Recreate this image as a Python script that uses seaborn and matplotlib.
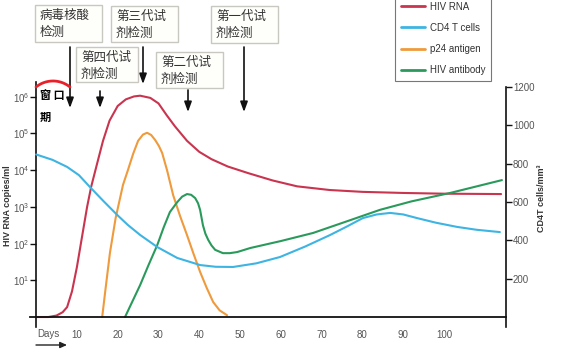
import numpy as np
import pandas as pd
import matplotlib
matplotlib.use("Agg")
import matplotlib.pyplot as plt
import seaborn as sns
from matplotlib.patches import Rectangle, FancyArrowPatch
from matplotlib.lines import Line2D
from matplotlib.ticker import NullLocator

# --- data ---
# HIV RNA (copies/ml, stored as log10)
rna_day = [0, 3, 5, 6.5, 7.6, 8.8, 10, 11.2, 12.5, 13.5, 15, 16.4, 18, 20, 22, 24, 25.5,
           28, 30, 32, 34, 37, 40, 43, 47, 52, 58, 64, 72, 80, 90, 100, 114]
rna_log = [0, 0, 0.04, 0.13, 0.27, 0.7, 1.36, 2.15, 3.0, 3.55, 4.2, 4.8, 5.35, 5.75, 5.93, 6.01, 6.03,
           5.97, 5.82, 5.5, 5.2, 4.8, 4.5, 4.3, 4.1, 3.92, 3.72, 3.56, 3.46, 3.41, 3.38, 3.36, 3.35]

# p24 antigen (log10)
p24_day = [16.2, 17, 18.1, 19.5, 21.3, 22.5, 23.8, 25, 26.2, 27.2, 28.2, 29.2, 30.1, 30.9, 32.1,
           33.6, 35.3, 37, 38.6, 40.2, 41.8, 43.4, 45, 46.8]
p24_log = [0, 0.75, 1.75, 2.7, 3.6, 4.0, 4.45, 4.8, 4.97, 5.02, 4.96, 4.82, 4.66, 4.47, 4.0,
           3.32, 2.75, 2.23, 1.72, 1.23, 0.8, 0.41, 0.18, 0.05]

# HIV antibody (log10)
ab_day = [21.8, 23.5, 25.5, 27.5, 29.7, 31.3, 32.8, 34.6, 35.8, 37, 38, 39, 39.7, 40.2, 40.9,
          41.5, 42.2, 43, 43.9, 45.8, 47.5, 49.3, 52.5, 60, 67.9, 76, 84.3, 92, 101.5, 114.2]
ab_log = [0, 0.4, 0.87, 1.4, 1.96, 2.45, 2.86, 3.13, 3.28, 3.35, 3.33, 3.24, 3.1, 2.92, 2.5,
          2.27, 2.1, 1.95, 1.83, 1.74, 1.74, 1.77, 1.88, 2.07, 2.29, 2.6, 2.92, 3.15, 3.38, 3.73]

# CD4 T cells (cells/mm3, right axis)
cd4_day = [0, 4, 7.6, 10.5, 13.2, 16.5, 19.9, 22.5, 25.5, 29.7, 34.6, 40.2, 44, 48.3, 54, 59.8,
           66, 72.1, 76, 80.1, 83.5, 86.8, 90, 93.4, 98, 103.2, 108, 113.7]
cd4_val = [848, 820, 783, 740, 678, 605, 532, 480, 428, 365, 308, 271, 262, 261, 280, 313,
           368, 428, 470, 516, 535, 543, 535, 516, 492, 470, 455, 443]

series_names = ["HIV RNA", "CD4 T cells", "p24 antigen", "HIV antibody"]
COLORS = ["#c9344f", "#3db4e2", "#ef9a3c", "#2a9a5c"]

x_ticks = [10, 20, 30, 40, 50, 60, 70, 80, 90, 100]
left_ticks = [1, 2, 3, 4, 5, 6]
right_ticks = [200, 400, 600, 800, 1000, 1200]

tests = [("病毒核酸", "检测"), ("第三代试", "剂检测"), ("第四代试", "剂检测"),
         ("第二代试", "剂检测"), ("第一代试", "剂检测")]

# --- style ---
sns.set_style("ticks")
plt.rcParams["font.family"] = ["Liberation Sans", "Noto Sans CJK SC", "DejaVu Sans"]
plt.rcParams["mathtext.default"] = "regular"

W, H = 571, 351
LW = 1.5


def px(x, y):
    return (x / W, 1 - y / H)


fig = plt.figure(figsize=(W / 100, H / 100), dpi=100)
fig.patch.set_facecolor("white")
ax = fig.add_axes([30 / W, (H - 327) / H, 476 / W, 245 / H])
ax.set_yscale("log")

rna = pd.DataFrame({"day": rna_day, "v": 10 ** np.array(rna_log)})
p24 = pd.DataFrame({"day": p24_day, "v": 10 ** np.array(p24_log)})
ab = pd.DataFrame({"day": ab_day, "v": 10 ** np.array(ab_log)})
cd4 = pd.DataFrame({"day": cd4_day, "v": cd4_val})

sns.lineplot(data=rna, x="day", y="v", ax=ax, color=COLORS[0], lw=LW)
sns.lineplot(data=p24, x="day", y="v", ax=ax, color=COLORS[2], lw=LW)
sns.lineplot(data=ab, x="day", y="v", ax=ax, color=COLORS[3], lw=LW)

ax.set_xlim(-1.5, 115.2)
ax.set_ylim(10 ** -0.272, 10 ** 6.403)
ax.set_xlabel("")
ax.set_ylabel("")
for s in ["top", "right"]:
    ax.spines[s].set_visible(False)
ax.spines["left"].set_position(("data", 0))
ax.spines["bottom"].set_position(("data", 1))
ax.spines["left"].set_linewidth(1.2)
ax.spines["bottom"].set_linewidth(1.3)
ax.spines["left"].set_color("#111")
ax.spines["bottom"].set_color("#111")

ax.set_yticks([10 ** k for k in left_ticks])
ax.set_yticklabels(["$10^{%d}$" % k for k in left_ticks])
ax.yaxis.set_minor_locator(NullLocator())
ax.tick_params(axis="y", direction="out", length=4, width=1, color="#111",
               labelcolor="#555", labelsize=7, pad=1)
ax.set_xticks(x_ticks)
ax.tick_params(axis="x", length=0, labelcolor="#555", labelsize=7, pad=9)

ax2 = ax.twinx()
sns.lineplot(data=cd4, x="day", y="v", ax=ax2, color=COLORS[1], lw=LW)
ax2.set_ylim(-52.2, 1226)
ax2.set_ylabel("")
for s in ["top", "left", "bottom"]:
    ax2.spines[s].set_visible(False)
ax2.spines["right"].set_bounds(-52.2, 1200)
ax2.spines["right"].set_linewidth(1.2)
ax2.spines["right"].set_color("#111")
ax2.set_yticks(right_ticks)
ax2.tick_params(axis="y", direction="out", length=4, width=1, color="#111",
                labelcolor="#555", labelsize=7, pad=1)

# axis titles
fig.text(*px(8, 206), "HIV RNA copies/ml", rotation=90, fontsize=6.5, fontweight="bold",
         ha="center", va="center", color="#333")
fig.text(*px(542, 198), "CD4T cells/mm³", rotation=90, fontsize=6.5, fontweight="bold",
         ha="center", va="center", color="#333")
fig.text(*px(37, 334), "Days", fontsize=7, ha="left", va="center", color="#555")
fig.add_artist(FancyArrowPatch(px(36, 345), px(67, 345), transform=fig.transFigure,
                               arrowstyle="-|>,head_length=4,head_width=1.8", lw=1,
                               color="#222", mutation_scale=1, shrinkA=0, shrinkB=0))

# legend
handles = [Line2D([], [], color=c, lw=2) for c in COLORS]
leg = fig.legend(handles, series_names, loc="upper left", bbox_to_anchor=(390 / W, 1 + 9 / H),
                 frameon=True, fancybox=False, edgecolor="#555", fontsize=7,
                 labelspacing=1.15, handlelength=2.5, handletextpad=0.5, borderpad=0.6)
leg.get_frame().set_linewidth(0.8)
for t in leg.get_texts():
    t.set_color("#333")

# test boxes and arrows: box left, top, width, height, arrow x, arrow y0, arrow y1
box_pos = [(35, 5, 67, 37, 70, 47, 108), (111, 6, 67, 36, 143, 47, 84),
           (76, 47, 62, 35, 100, 91, 108), (156, 52, 67, 36, 188, 90, 112),
           (211, 6, 67, 37, 244, 47, 112)]
for (l1, l2), (bx, by, bw, bh, axx, ay0, ay1) in zip(tests, box_pos):
    fig.add_artist(Rectangle(px(bx, by + bh), bw / W, bh / H, transform=fig.transFigure,
                             fc="#fefefb", ec="#c8c8c0", lw=1))
    fig.text(*px(bx + 5, by + 10), l1, fontsize=9, ha="left", va="center", color="#333",
             family=["Noto Sans CJK SC"], fontweight="medium")
    fig.text(*px(bx + 5, by + 27), l2, fontsize=9, ha="left", va="center", color="#333",
             family=["Noto Sans CJK SC"], fontweight="medium")
    fig.add_artist(FancyArrowPatch(px(axx, ay0), px(axx, ay1), transform=fig.transFigure,
                                   arrowstyle="-|>,head_length=6,head_width=2.2", lw=1.2,
                                   color="#111", mutation_scale=1, shrinkA=0, shrinkB=0))

# window period mark
th = np.radians(np.linspace(51, 129, 30))
arc_x = (53 + 27 * np.cos(th)) / W
arc_y = 1 - (108 - 27 * np.sin(th)) / H
fig.add_artist(Line2D(arc_x, arc_y, transform=fig.transFigure, color="#e8202a", lw=2))
fig.text(*px(40, 95), "窗 口", fontsize=8, fontweight="bold", ha="left", va="center",
         color="black", family=["Noto Sans CJK SC"])
fig.text(*px(40, 117), "期", fontsize=8, fontweight="bold", ha="left", va="center",
         color="black", family=["Noto Sans CJK SC"])

fig.savefig("out.png", dpi=100)
